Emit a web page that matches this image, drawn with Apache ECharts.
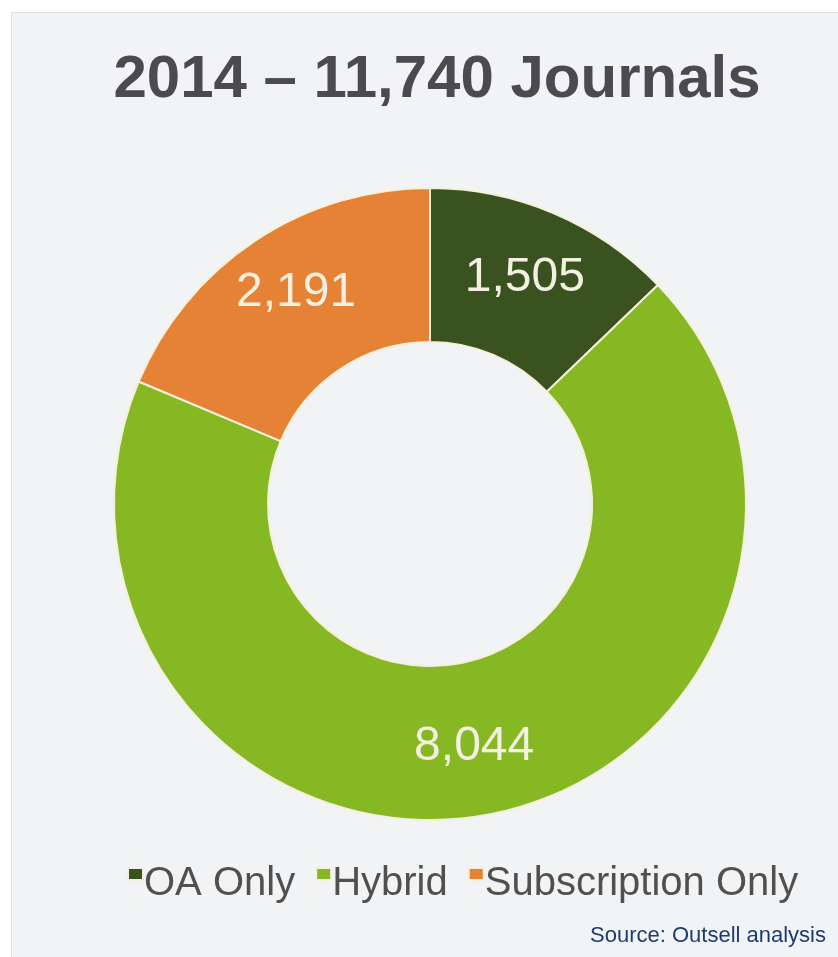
<!DOCTYPE html>
<html><head><meta charset="utf-8">
<script src="https://cdn.jsdelivr.net/npm/echarts@6/dist/echarts.min.js"></script>
<style>
html,body{margin:0;padding:0;background:#ffffff;}
#panel{position:absolute;left:11px;top:12px;width:827px;height:945px;background:#f2f3f5;border-left:1px solid #e2e2e2;border-top:1px solid #e2e2e2;}
#c{position:absolute;left:0;top:0;width:838px;height:957px;}
</style></head>
<body><div id="panel"></div><div id="c"></div>
<script>
const titleText = '2014 – 11,740 Journals';
const sourceText = 'Source: Outsell analysis';
const categories = ['OA Only', 'Hybrid', 'Subscription Only'];
const values = [1505, 8044, 2191];
const colors = ['#3a521f', '#86b823', '#e58235'];

const chart = echarts.init(document.getElementById('c'), null, {renderer: 'canvas'});
const markerIcon = 'path://M0,0H0.01V0H0Z M0,6H12V18H0Z M0,44H0.01V44H0Z';
const labelShift = [-4, 5, -10];
chart.setOption({
  backgroundColor: 'transparent',
  animation: false,
  title: [{
    text: titleText,
    left: 432, top: 45, textAlign: 'center',
    textStyle: {fontFamily: 'Liberation Sans', fontWeight: 'bold', fontSize: 60, color: '#4a4a4f'}
  }, {
    text: sourceText,
    right: 7, top: 920,
    textStyle: {fontFamily: 'Liberation Sans', fontWeight: 'normal', fontSize: 22, color: '#1b3d6f'}
  }],
  legend: {
    data: categories,
    left: 122, top: 856,
    icon: markerIcon,
    itemWidth: 15, itemHeight: 44,
    itemGap: 20,
    symbolKeepAspect: false,
    textStyle: {fontFamily: 'Liberation Sans', fontSize: 40, color: '#505050', padding: [0,0,0,-4]}
  },
  series: [{
    type: 'pie',
    center: [430, 504],
    radius: [162, 316],
    startAngle: 90,
    clockwise: true,
    avoidLabelOverlap: false,
    itemStyle: {borderColor: '#f4f0dc', borderWidth: 2},
    label: {
      show: true, position: 'inside',
      formatter: p => p.value.toLocaleString('en-US'),
      fontFamily: 'Liberation Sans', fontSize: 48, color: '#f3f0e2'
    },
    labelLayout: p => ({dy: labelShift[p.dataIndex]}),
    labelLine: {show: false},
    emphasis: {disabled: true},
    data: categories.map((c, i) => ({name: c, value: values[i], itemStyle: {color: colors[i]}}))
  }]
});
</script>
</body></html>
